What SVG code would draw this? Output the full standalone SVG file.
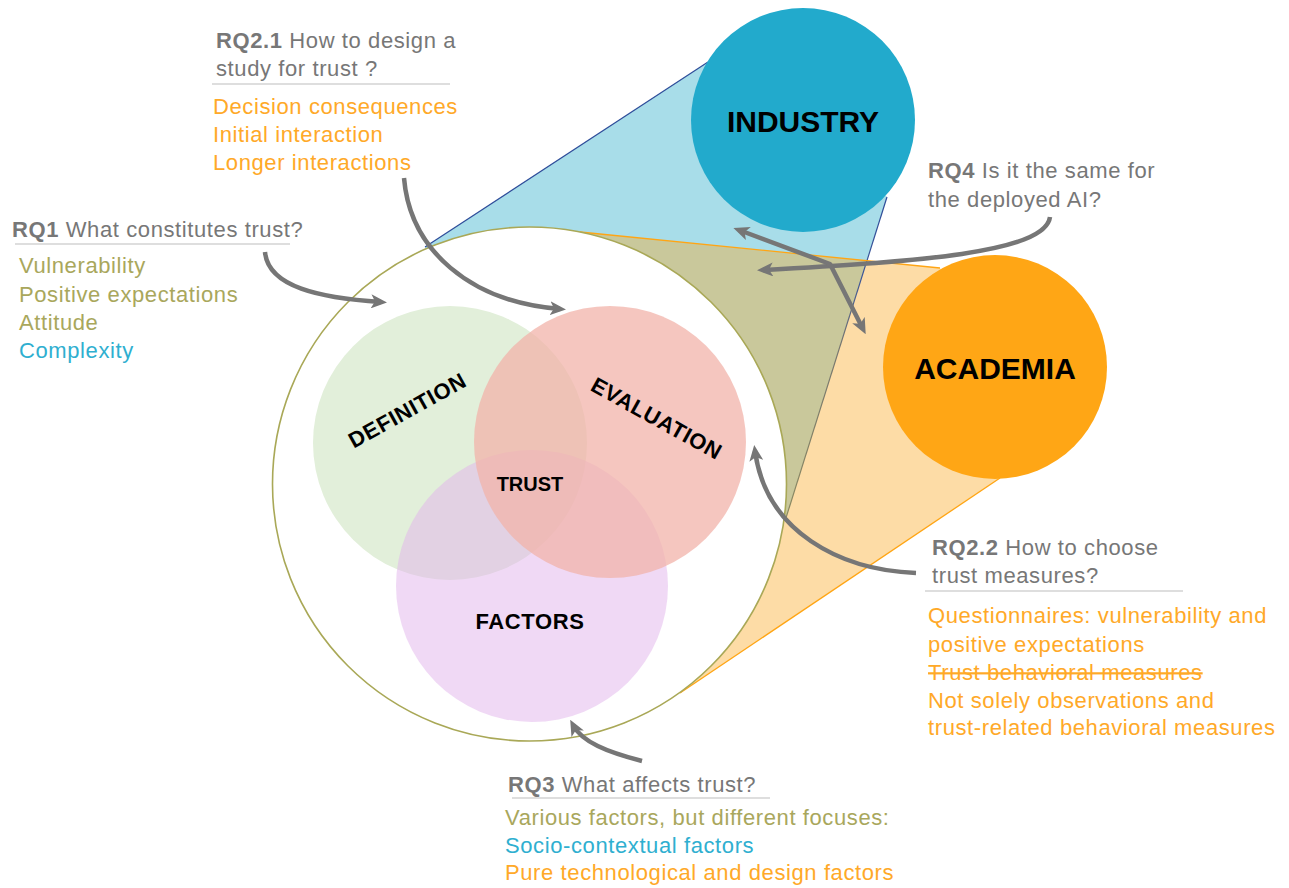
<svg xmlns="http://www.w3.org/2000/svg" width="1289" height="888" viewBox="0 0 1289 888">
<defs>
<style>
.t{font-family:"Liberation Sans",Arial,sans-serif;font-size:22px;letter-spacing:0.6px}
.h{fill:#777777}
.b{font-weight:bold}
.ol{fill:#a9a75c}
.bl{fill:#2fafd0}
.or{fill:#ffa928}
.lab{font-family:"Liberation Sans",Arial,sans-serif;font-weight:bold;fill:#000;text-anchor:middle}
.ul{stroke:#d3d3d3;stroke-width:1.5}
.arr{fill:none;stroke:#767676;stroke-width:4.5;marker-end:url(#ah)}
</style>
<marker id="ah" viewBox="0 0 16 14" markerWidth="16" markerHeight="14" refX="10" refY="7" orient="auto-start-reverse" markerUnits="userSpaceOnUse">
<path d="M0,0 L16,7 L0,14 L4,7 z" fill="#767676"/>
</marker>
<clipPath id="blueClip"><polygon points="425,247 708,62 803,120 887,197 785,521 529,484"/></clipPath>
<linearGradient id="rg" gradientUnits="userSpaceOnUse" x1="887" y1="197" x2="785" y2="521">
<stop offset="0" stop-color="#2e4d9a"/><stop offset="0.25" stop-color="#3b5598"/><stop offset="0.45" stop-color="#767670"/><stop offset="1" stop-color="#8c8a60"/>
</linearGradient>
</defs>
<rect width="1289" height="888" fill="#fff"/>

<g id="cones">
<polygon points="425,247 708,62 803,120 887,197 785,521 529,484" fill="#a8dde9"/>
<polygon points="580,232 940,268 995,368 1000,478 680,693 529,484" fill="#fddca6"/>
<g clip-path="url(#blueClip)"><polygon points="580,232 940,268 995,368 1000,478 680,693 529,484" fill="#c9c89b"/></g>
<line x1="425" y1="247" x2="708" y2="62" stroke="#2e4d9a" stroke-width="1.2"/>
<line x1="887" y1="197" x2="785" y2="521" stroke="url(#rg)" stroke-width="1.2"/>
<line x1="580" y1="232" x2="940" y2="268" stroke="#ffa514" stroke-width="1.3"/>
<line x1="680" y1="693" x2="1000" y2="478" stroke="#ffa514" stroke-width="1.3"/>
</g>

<g id="scope">
<circle cx="529.5" cy="484" r="257" fill="#fff" stroke="#a9a857" stroke-width="1.6"/>
</g>

<g id="definition">
<circle cx="450" cy="443" r="137" fill="#e2efda"/>
<text class="lab" x="411" y="417" font-size="22" letter-spacing="0.6" transform="rotate(-29 411 417)">DEFINITION</text>
</g>
<g id="factors">
<circle cx="532" cy="586" r="136" fill="#e2b4ec" fill-opacity="0.5"/>
</g>
<g id="evaluation">
<circle cx="610" cy="442" r="136" fill="#f2b3a9" fill-opacity="0.75"/>
<text class="lab" x="653" y="425" font-size="22" letter-spacing="0.6" transform="rotate(29 653 425)">EVALUATION</text>
</g>
<g id="factors-label">
<text class="lab" x="530" y="629" font-size="22" letter-spacing="0.6">FACTORS</text>
</g>
<g id="trust">
<text class="lab" x="530" y="491" font-size="20">TRUST</text>
</g>

<g id="industry">
<circle cx="803" cy="120" r="112" fill="#22aacc"/>
<text class="lab" x="803" y="132" font-size="30">INDUSTRY</text>
</g>
<g id="academia">
<circle cx="995" cy="367" r="112" fill="#ffa615"/>
<text class="lab" x="995" y="379" font-size="30">ACADEMIA</text>
</g>

<g id="connectors">
<path class="arr" d="M265,252 C268,287 320,298 381,302"/>
<path class="arr" d="M404,178 C410,250 470,302 560,309"/>
<path class="arr" d="M1050,217 C1045,255 900,262 763,270"/>
<path class="arr" d="M739,230 L830,264 L863,329" stroke-linejoin="round" marker-start="url(#ah)"/>
<path class="arr" d="M916,573 C840,570 766,532 755,451"/>
<path class="arr" d="M642,761 C607,752 582,742 573,725"/>
</g>

<g id="rq2-1">
<text class="t h" x="216" y="48"><tspan class="b">RQ2.1</tspan> How to design a</text>
<text class="t h" x="216" y="76">study for trust ?</text>
<line class="ul" x1="212" y1="84" x2="450" y2="84"/>
<text class="t or" x="213" y="114">Decision consequences</text>
<text class="t or" x="213" y="142">Initial interaction</text>
<text class="t or" x="213" y="170">Longer interactions</text>
</g>

<g id="rq1">
<text class="t h" x="12" y="237"><tspan class="b">RQ1</tspan> What constitutes trust?</text>
<line class="ul" x1="15" y1="244" x2="290" y2="244"/>
<text class="t ol" x="19" y="273">Vulnerability</text>
<text class="t ol" x="19" y="302">Positive expectations</text>
<text class="t ol" x="19" y="330">Attitude</text>
<text class="t bl" x="19" y="358">Complexity</text>
</g>

<g id="rq4">
<text class="t h" x="928" y="178"><tspan class="b">RQ4</tspan> Is it the same for</text>
<text class="t h" x="928" y="207">the deployed AI?</text>
</g>

<g id="rq2-2">
<text class="t h" x="932" y="555"><tspan class="b">RQ2.2</tspan> How to choose</text>
<text class="t h" x="932" y="583">trust measures?</text>
<line class="ul" x1="925" y1="591" x2="1183" y2="591"/>
<text class="t or" x="928" y="623">Questionnaires: vulnerability and</text>
<text class="t or" x="928" y="652">positive expectations</text>
<text class="t or" x="928" y="680" style="text-decoration:line-through">Trust behavioral measures</text>
<text class="t or" x="928" y="708">Not solely observations and</text>
<text class="t or" x="928" y="735">trust-related behavioral measures</text>
</g>

<g id="rq3">
<text class="t h" x="508" y="792"><tspan class="b">RQ3</tspan> What affects trust?</text>
<line class="ul" x1="512" y1="798" x2="770" y2="798"/>
<text class="t ol" x="505" y="825">Various factors, but different focuses:</text>
<text class="t bl" x="505" y="853">Socio-contextual factors</text>
<text class="t or" x="505" y="880">Pure technological and design factors</text>
</g>
</svg>
